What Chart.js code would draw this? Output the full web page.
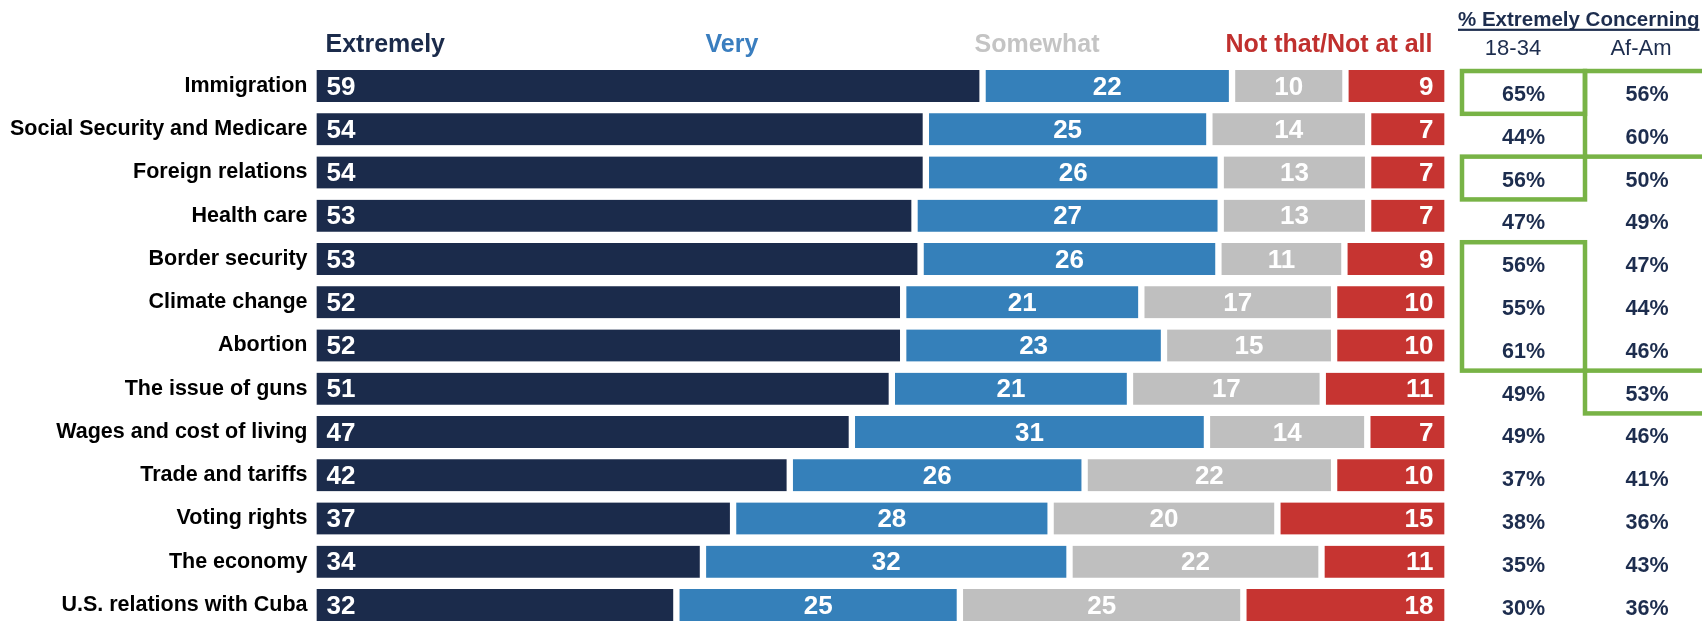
<!DOCTYPE html>
<html>
<head>
<meta charset="utf-8">
<script src="https://cdn.jsdelivr.net/npm/chart.js@4/dist/chart.umd.min.js"></script>
<style>
html,body{margin:0;padding:0;background:#fff;width:1702px;height:622px;overflow:hidden}
#wrap{position:relative;width:1702px;height:650px}
canvas{display:block}
</style>
</head>
<body>
<div id="wrap"><canvas id="c" width="1702" height="650"></canvas></div>
<script>
// ---- data ----
const categories = ["Immigration","Social Security and Medicare","Foreign relations","Health care","Border security","Climate change","Abortion","The issue of guns","Wages and cost of living","Trade and tariffs","Voting rights","The economy","U.S. relations with Cuba"];
const seriesNames = ["Extremely","Very","Somewhat","Not that/Not at all"];
const extremely = [59,54,54,53,53,52,52,51,47,42,37,34,32];
const very      = [22,25,26,27,26,21,23,21,31,26,28,32,25];
const somewhat  = [10,14,13,13,11,17,15,17,14,22,20,22,25];
const notAtAll  = [ 9, 7, 7, 7, 9,10,10,11, 7,10,15,11,18];
const tableTitle = "% Extremely Concerning";
const colHeaders = ["18-34","Af-Am"];
const pct1834 = [65,44,56,47,56,55,61,49,49,37,38,35,30];
const pctAfAm = [56,60,50,49,47,44,46,53,46,41,36,43,36];
const boxes1834 = [[0,0],[2,2],[4,6]];
const boxesAfAm = [[0,1],[7,7]];

// ---- styling ----
const colors = ["#1b2b4b","#3580ba","#bfbfbf","#c63431"];
const headColors = ["#1b2b4b","#3a7ebf","#c4c4c4","#c0302e"];
const FONT = '"Liberation Sans", Arial, Helvetica, sans-serif';

const rows = [extremely, very, somewhat, notAtAll];
const totals = categories.map((_, i) => rows.reduce((s, a) => s + a[i], 0));
const share = arr => arr.map((v, i) => v / totals[i] * 100);

const datasets = rows.map((arr, k) => ({
  label: seriesNames[k],
  data: share(arr),
  rawValues: arr,
  backgroundColor: colors[k],
  borderColor: "#ffffff",
  borderWidth: {left: 3.5, right: 3.5, top: 0, bottom: 0},
  borderSkipped: false,
  barThickness: 32
}));

const valuePlugin = {
  id: "values",
  afterDatasetsDraw(chart) {
    const ctx = chart.ctx;
    ctx.save();
    ctx.font = "bold 26px " + FONT;
    ctx.fillStyle = "#ffffff";
    ctx.textBaseline = "alphabetic";
    chart.data.datasets.forEach((ds, di) => {
      const meta = chart.getDatasetMeta(di);
      meta.data.forEach((el, i) => {
        const p = el.getProps(["x", "y", "base"], true);
        const l = Math.min(p.x, p.base), r = Math.max(p.x, p.base);
        let tx;
        if (di === 0) { ctx.textAlign = "left"; tx = l + 13; }
        else if (di === 3) { ctx.textAlign = "right"; tx = r - 14; }
        else { ctx.textAlign = "center"; tx = (l + r) / 2; }
        ctx.fillText(String(ds.rawValues[i]), tx, p.y + 8.5);
      });
    });
    ctx.restore();
  }
};

const decorPlugin = {
  id: "decor",
  afterDraw(chart) {
    const ctx = chart.ctx;
    const xs = chart.scales.x, ys = chart.scales.y;
    ctx.save();
    // series headings
    ctx.font = "bold 25px " + FONT;
    ctx.textBaseline = "alphabetic";
    const hy = 52;
    ctx.fillStyle = headColors[0]; ctx.textAlign = "left";
    ctx.fillText(seriesNames[0], xs.getPixelForValue(0) + 12, hy);
    ctx.fillStyle = headColors[1]; ctx.textAlign = "center";
    ctx.fillText(seriesNames[1], xs.getPixelForValue(36.9), hy);
    ctx.fillStyle = headColors[2]; ctx.textAlign = "center";
    ctx.fillText(seriesNames[2], xs.getPixelForValue(63.8), hy);
    ctx.fillStyle = headColors[3]; ctx.textAlign = "right";
    ctx.fillText(seriesNames[3], xs.getPixelForValue(100) - 15, hy);

    // table
    const navy = "#1d2d4e";
    const tLeft = 1458;
    ctx.font = "bold 20.5px " + FONT;
    ctx.fillStyle = navy; ctx.textAlign = "left";
    ctx.fillText(tableTitle, tLeft, 26);
    const tw = ctx.measureText(tableTitle).width;
    ctx.fillRect(tLeft, 28.7, tw, 2.2);

    const colL = [1462, 1585], colR = [1585, 1709];
    const hdrX = [1513, 1641];
    ctx.font = "22px " + FONT;
    ctx.textAlign = "center";
    colHeaders.forEach((h, c) => ctx.fillText(h, hdrX[c], 55));

    const pitch = 42.8;
    const y0 = ys.getPixelForValue(0) + 7.5;
    const yc = i => y0 + i * pitch;
    ctx.font = "bold 21.5px " + FONT;
    [pct1834, pctAfAm].forEach((arr, c) => {
      const cx = (colL[c] + colR[c]) / 2;
      arr.forEach((v, i) => ctx.fillText(v + "%", cx, yc(i) + 7.5));
    });

    ctx.strokeStyle = "#78b346";
    ctx.lineWidth = 4.5;
    [boxes1834, boxesAfAm].forEach((bx, c) => {
      bx.forEach(([a, b]) => {
        const top = yc(a) - 22.5, bot = yc(b) + 20.3;
        ctx.strokeRect(colL[c], top, colR[c] - colL[c], bot - top);
      });
    });
    ctx.restore();
  }
};

new Chart(document.getElementById("c"), {
  type: "bar",
  data: { labels: categories, datasets },
  options: {
    indexAxis: "y",
    responsive: false,
    devicePixelRatio: 1,
    animation: false,
    events: [],
    layout: { padding: { left: 0, right: 254.5, top: 64.4, bottom: 23.35 } },
    plugins: { legend: { display: false }, tooltip: { enabled: false } },
    scales: {
      x: { stacked: true, min: 0, max: 100, display: false },
      y: {
        stacked: true,
        grid: { display: false, drawTicks: false },
        border: { display: false },
        ticks: { color: "#000", padding: 6, font: { family: FONT, size: 21.5, weight: "bold" } },
        afterFit(s) { s.width = 313.5; }
      }
    }
  },
  plugins: [valuePlugin, decorPlugin]
});
</script>
</body>
</html>
